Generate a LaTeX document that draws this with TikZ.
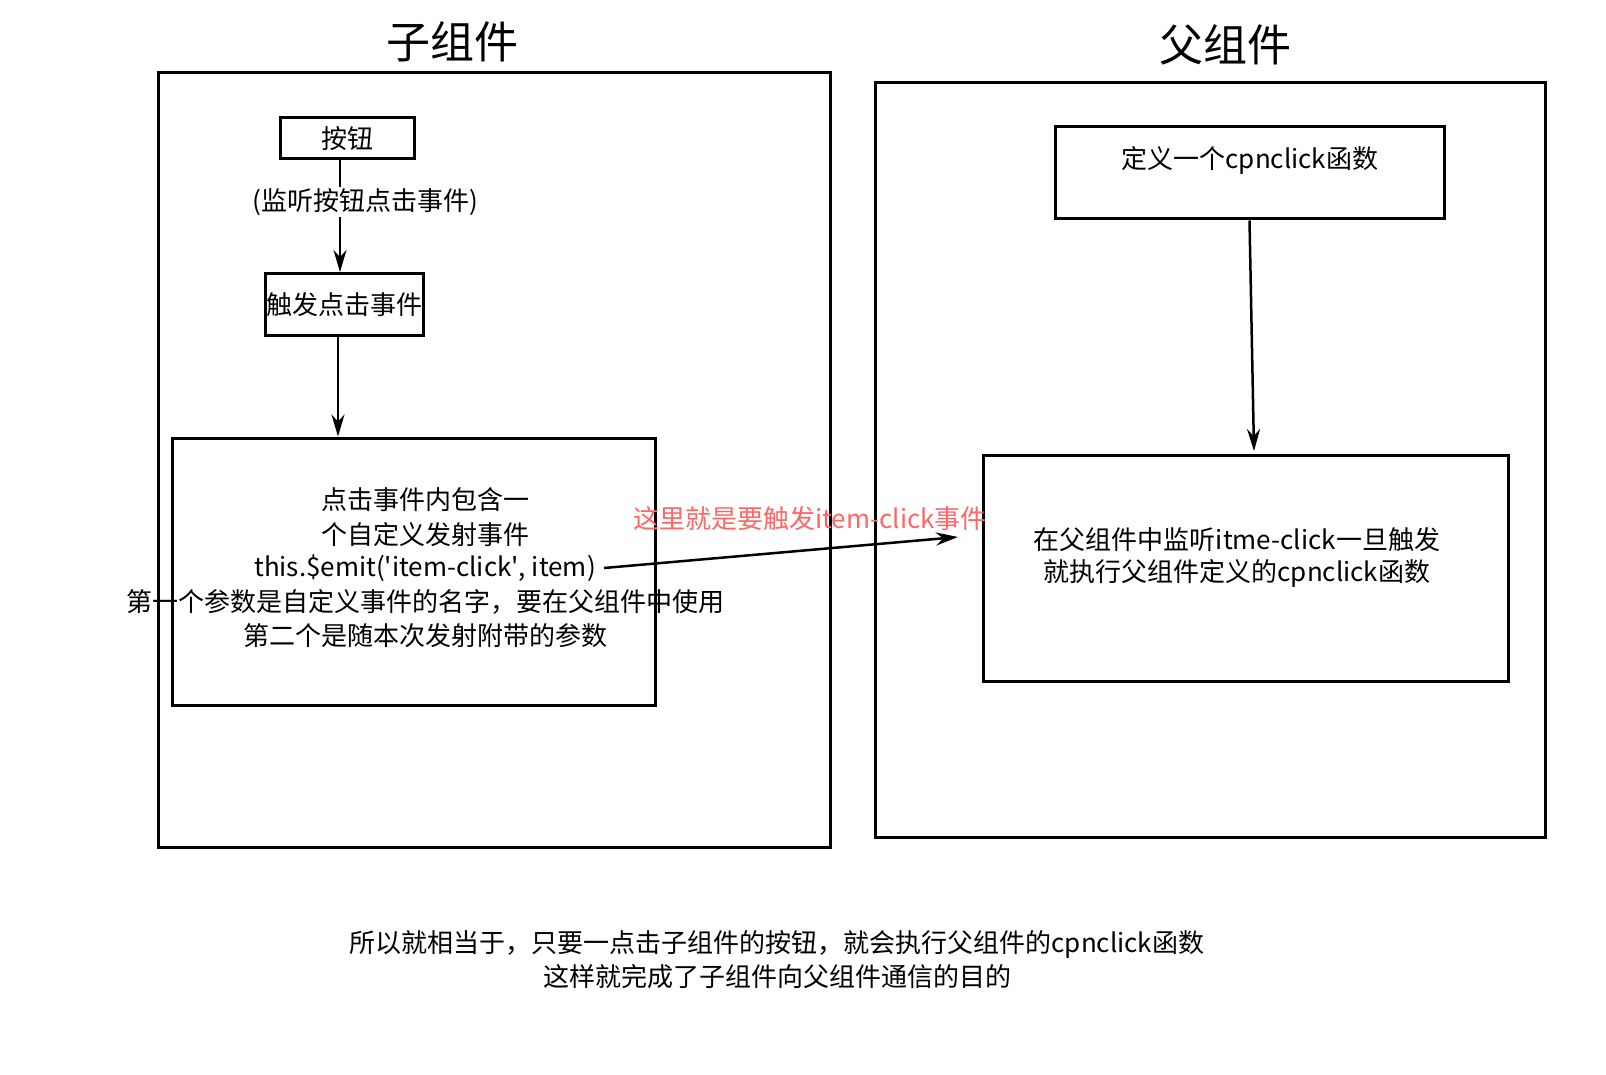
\documentclass[tikz,border=0pt]{standalone}
\usepackage{fontspec}
\setmainfont{Noto Sans CJK SC}
\usetikzlibrary{arrows.meta}
\begin{document}
\begin{tikzpicture}[x=1pt,y=-1pt,
  box/.style={draw,line width=3pt,inner sep=0pt},
  txt/.style={font=\fontsize{26}{33}\selectfont,align=center,inner sep=0pt},
  arr/.style={line width=2.5pt,-{Stealth[length=22pt,width=13pt]}}]
\useasboundingbox (0,0) rectangle (1606,1075);
\node[font=\fontsize{44}{50}\selectfont] (t1) at (452,42) {子组件};
\node[font=\fontsize{44}{50}\selectfont] (t2) at (1225,45) {父组件};
\draw[line width=3pt] (158,73) rectangle (830,847);
\draw[line width=3pt] (875,83) rectangle (1545,837);
\node[box,minimum width=134pt,minimum height=41pt] (btn) at (347,138.5) {};
\node[txt] at (btn) {按钮};
\node[box,minimum width=158pt,minimum height=61pt] (trig) at (344,304.5) {};
\node[txt] at (trig) {触发点击事件};
\node[box,minimum width=483pt,minimum height=267pt] (inner) at (413.5,571.5) {};
\node[box,minimum width=389pt,minimum height=92pt] (def) at (1249.5,173) {};
\node[txt] (dt) at (1250,160) {定义一个cpnclick函数};
\node[box,minimum width=525pt,minimum height=226pt] (listen) at (1245.5,568) {};
\draw[arr] (340,159) -- (340,272);
\node[txt,fill=white,inner sep=1pt] (lbl) at (365,202) {(监听按钮点击事件)};
\draw[arr] (338,335) -- (inner.north -| 338,0);
\node[txt] (l1) at (425,500) {点击事件内包含一};
\node[txt] (l2) at (425,535) {个自定义发射事件};
\node[txt] (l3) at (425,568) {this.\$emit(\textquotesingle item-click\textquotesingle, item)};
\node[txt] (l4) at (425,602) {第一个参数是自定义事件的名字，要在父组件中使用};
\node[txt] (l5) at (425,636) {第二个是随本次发射附带的参数};
\coordinate (e1) at (958,537);
\draw[arr] (l3.east) ++(8pt,0) -- (e1);
\node[txt,text={rgb,255:red,255;green,102;blue,102}] (red) at (810,519) {这里就是要触发item-click事件};
\draw[arr] (def.south) -- (1254,451);
\node[txt] (r1) at (1237,540) {在父组件中监听itme-click一旦触发};
\node[txt] (r2) at (1237,573) {就执行父组件定义的cpnclick函数};
\node[txt] (b1) at (777,944) {所以就相当于，只要一点击子组件的按钮，就会执行父组件的cpnclick函数};
\node[txt] (b2) at (777,977) {这样就完成了子组件向父组件通信的目的};
\end{tikzpicture}
\end{document}
